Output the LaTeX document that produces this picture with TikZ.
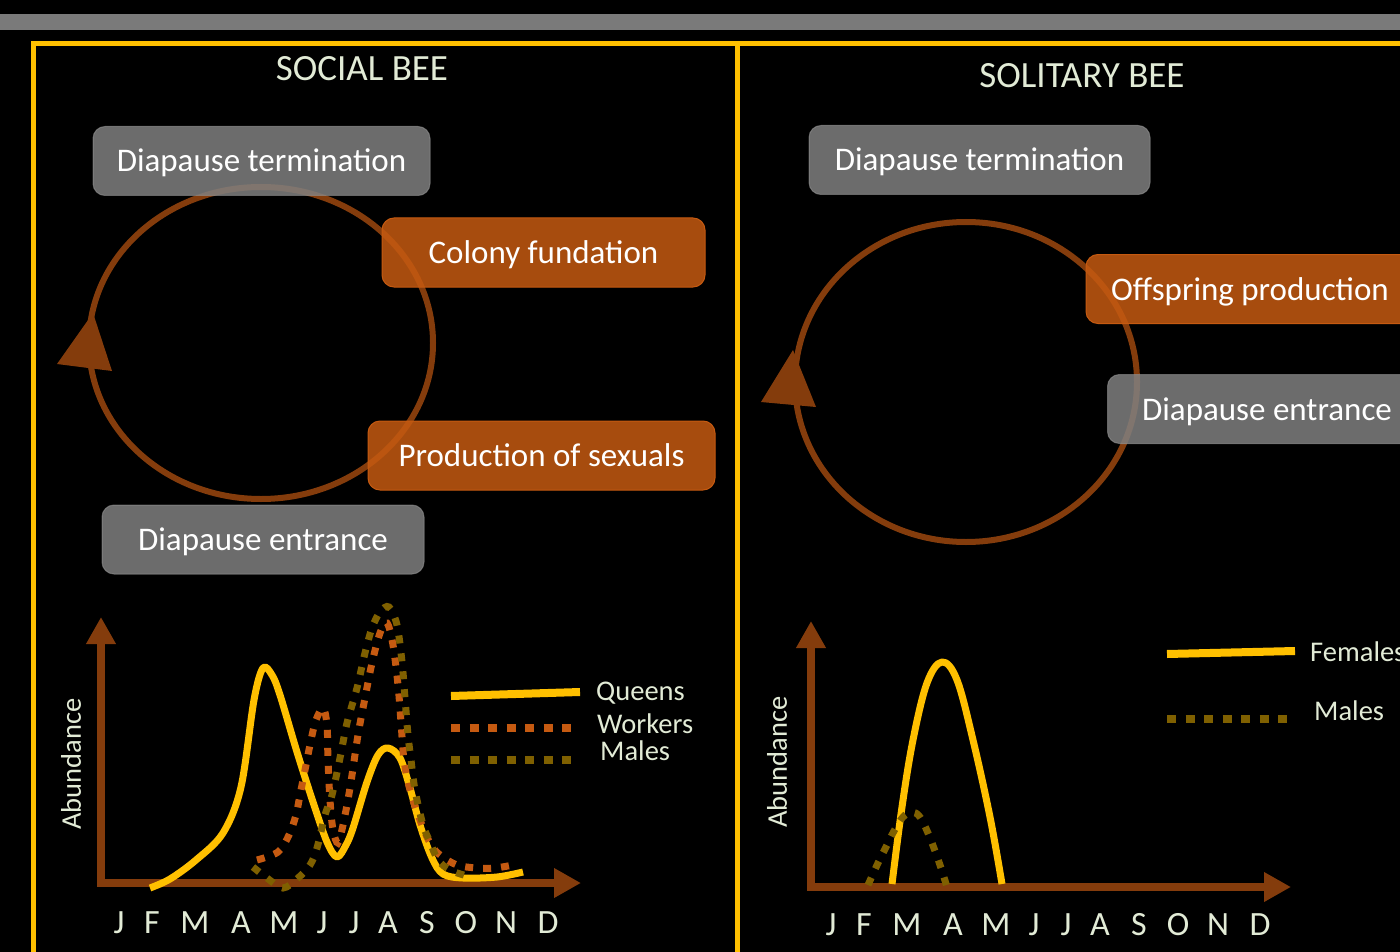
\documentclass[tikz,border=0pt]{standalone}
\usepackage{fontspec}
\setmainfont{Carlito}
\usetikzlibrary{arrows.meta}

\definecolor{gold}{RGB}{255,192,0}
\definecolor{rust}{RGB}{132,60,12}
\definecolor{burnt}{RGB}{197,90,17}
\definecolor{malegold}{RGB}{127,96,0}
\definecolor{boxgray}{RGB}{128,128,128}
\definecolor{chalk}{RGB}{226,235,214}

\tikzset{
  phase/.style={rounded corners=12pt, minimum height=69pt, inner sep=0pt,
    text height=28pt, text depth=6pt,
    text=white, text opacity=1, line width=1pt,
    font=\fontsize{33}{40}\selectfont},
  restbox/.style={phase, fill=boxgray, fill opacity=0.85, draw=boxgray!85!white, draw opacity=0.6},
  workbox/.style={phase, fill=burnt, fill opacity=0.85, draw=burnt},
  ring/.style={draw=rust, line width=6pt},
  axis/.style={rust, line width=8pt, -{Triangle[length=27pt,width=28pt]}},
  queen/.style={gold, line width=7pt, line join=round},
  worker/.style={burnt, line width=7pt, dash pattern=on 8pt off 10pt},
  male/.style={malegold, line width=7pt, dash pattern=on 8pt off 10pt},
  title/.style={text=chalk, inner sep=0pt, font=\fontsize{37}{44}\selectfont},
  small/.style={text=chalk, inner sep=0pt, font=\fontsize{28.5}{34}\selectfont},
  month/.style={text=chalk, inner sep=0pt, anchor=base, font=\fontsize{34}{40}\selectfont}
}

\begin{document}
\begin{tikzpicture}[x=1pt, y=-1pt]
  \useasboundingbox (0,0) rectangle (1400,952);
  \clip (0,0) rectangle (1400,952);
  \fill[black] (0,0) rectangle (1400,952);
  \fill[boxgray!95!black] (0,14) rectangle (1400,30);

  % panel frame
  \draw[gold, line width=5pt] (33,960) -- (33,44) -- (1410,44);
  \draw[gold, line width=5pt] (737,44) -- (737,960);

  \node (st) [title] at (362,69) {SOCIAL BEE};
  \node (lt) [title] at (1082,76) {SOLITARY BEE};

  % life cycles
  \draw[ring] (261,343) ellipse [x radius=172pt, y radius=156pt];
  \fill[rust] (93,313) -- (57,364) -- (112,371) -- cycle;
  \draw[ring] (966,382) ellipse [x radius=171pt, y radius=160pt];
  \fill[rust] (793,350) -- (761,402) -- (816,407) -- cycle;

  \node (sdt) [restbox, minimum width=337pt] at (261.5,161) {Diapause termination};
  \node (cf) [workbox, minimum width=323pt] at (543.5,252.5) {Colony fundation};
  \node (ps) [workbox, minimum width=347pt] at (541.5,455.5) {Production of sexuals};
  \node (sde) [restbox, minimum width=322pt] at (263,539.5) {Diapause entrance};

  \node (odt) [restbox, minimum width=341pt] at (979.5,160) {Diapause termination};
  \node (op) [workbox, minimum width=328pt] at (1250,289) {Offspring production};
  \node (ode) [restbox, minimum width=319pt] at (1267,409) {Diapause entrance};

  % abundance charts
  \coordinate (o1) at (101,883);
  \coordinate (o2) at (811,887);
  \draw[axis] ([yshift=4pt]o1) -- (101,617);
  \draw[axis] ([xshift=-4pt]o1) -- (581,883);
  \draw[axis] ([yshift=4pt]o2) -- (811,621);
  \draw[axis] ([xshift=-4pt]o2) -- (1291,887);

  \node (ab1) [small, rotate=90] at (71,764) {Abundance};
  \node (ab2) [small, rotate=90] at (777,762) {Abundance};

  \foreach \m/\x [count=\i] in {J/119,F/152,M/195,A/241,M/284,J/322,J/354,A/388,S/427,O/466,N/506,D/548} {
    \node (sm\i) [month] at (\x,933) {\m};
    \node (lm\i) [month] at (\x+712,935) {\m};
  }

  \draw[queen] plot[smooth, tension=0.55] coordinates {(150,888) (170,879) (196,860)
    (223,833) (241,787) (254,700) (263,668) (272,675) (280,695) (297,752) (313,802)
    (327,842) (337,857) (346,845) (353,828) (367,782) (378,755) (388,748) (400,758) (410,788)
    (420,825) (432,858) (443,874) (463,878) (497,877) (523,872)};
  \draw[worker] plot[smooth, tension=0.55] coordinates {(257,860) (278,852) (289,835) (296,815)
    (300,795) (306,765) (311,740) (316,720) (323,708) (327,725) (328,760) (330,800) (333,830)
    (338,843) (343,825) (350,788) (358,735) (365,698) (372,663) (380,633) (387,623) (393,645)
    (398,685) (401,722) (404,760) (410,790) (420,820) (430,843) (440,855) (457,865) (477,868)
    (495,868) (513,865)};
  \draw[male] plot[smooth, tension=0.55] coordinates {(253,867) (267,878) (283,888) (298,878)
    (310,865) (317,848) (325,815) (332,795) (340,758) (347,723) (357,688) (365,653) (372,628)
    (380,612) (389,607) (397,625) (402,662) (405,698) (408,735) (411,760) (415,790) (423,825)
    (430,842) (438,860) (450,870) (467,876)};

  \draw[queen] plot[smooth, tension=0.6] coordinates {(892,884) (902,807) (913,740) (927,683)
    (942,662) (957,680) (973,740) (990,817) (1002,884)};
  \draw[male] plot[smooth, tension=0.6] coordinates {(868,885) (878,863) (886,847) (894,831)
    (903,817) (912,812) (920,817) (928,833) (935,851) (941,868) (947,887)};

  % legends
  \node (qn) [small, anchor=base west] at (596,700) {Queens};
  \node (wk) [small, anchor=base west] at (597,733) {Workers};
  \node (ml) [small, anchor=base west] at (600,760) {Males};
  \coordinate (q0) at (451,696);
  \coordinate (w0) at (451,728);
  \coordinate (m0) at (451,760);
  \draw[queen, line width=8pt] (q0) -- (580,692);
  \draw[worker, line width=8pt, dash pattern=on 9pt off 9.5pt] (w0) -- (580,728);
  \draw[male, line width=8pt, dash pattern=on 9pt off 9.5pt] (m0) -- (580,760);

  \node (fe) [small, anchor=base west] at (1310,661) {Females};
  \node (ml2) [small, anchor=base west] at (1314,720) {Males};
  \coordinate (f0) at (1167,654);
  \coordinate (m2) at (1167,719);
  \draw[queen, line width=8pt] (f0) -- (1295,651);
  \draw[male, line width=8pt, dash pattern=on 9pt off 9.5pt] (m2) -- (1296,719);
\end{tikzpicture}
\end{document}
